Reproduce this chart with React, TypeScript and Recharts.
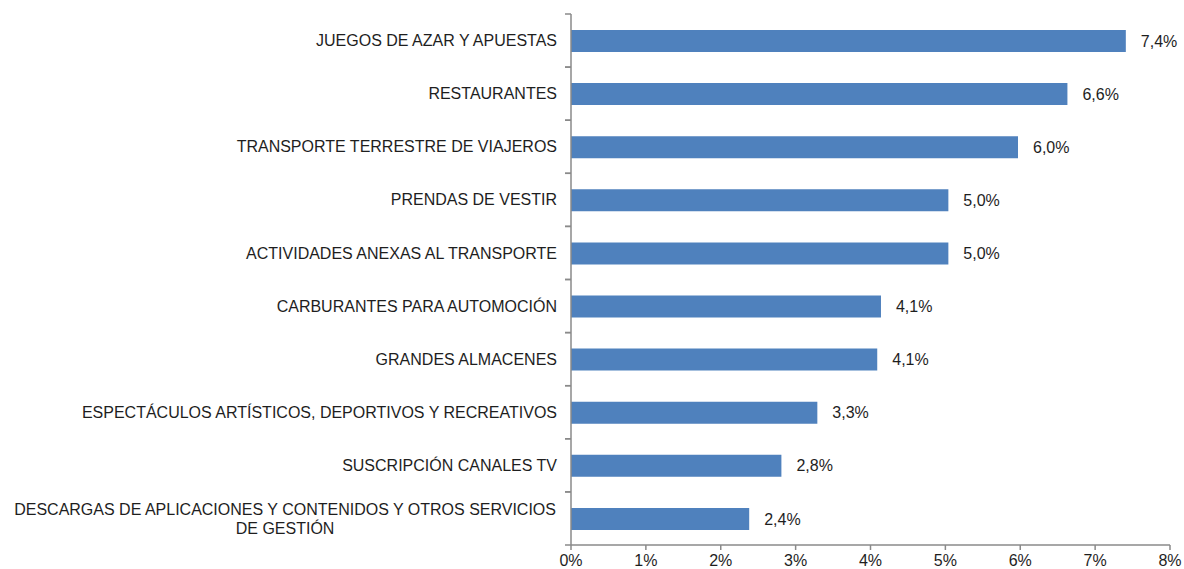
import { BarChart, Bar, XAxis, YAxis, LabelList } from 'recharts';

// Sectors, top to bottom
const categories = [
  'JUEGOS DE AZAR Y APUESTAS',
  'RESTAURANTES',
  'TRANSPORTE TERRESTRE DE VIAJEROS',
  'PRENDAS DE VESTIR',
  'ACTIVIDADES ANEXAS AL TRANSPORTE',
  'CARBURANTES PARA AUTOMOCIÓN',
  'GRANDES ALMACENES',
  'ESPECTÁCULOS ARTÍSTICOS, DEPORTIVOS Y RECREATIVOS',
  'SUSCRIPCIÓN CANALES TV',
  'DESCARGAS DE APLICACIONES Y CONTENIDOS Y OTROS SERVICIOS\nDE GESTIÓN',
];
// bar lengths (labels show them rounded)
const values = [7.41, 6.63, 5.97, 5.04, 5.04, 4.14, 4.09, 3.29, 2.81, 2.38];
const xTicks = [0, 1, 2, 3, 4, 5, 6, 7, 8];

const data = categories.map((name, i) => ({ name, value: values[i] }));

const FONT = '"Liberation Sans", Arial, sans-serif';
const TEXT = '#1e1e1e';
const AXIS = '#8a8a8a';
const BAR = '#4f81bd';
const TICK_SIZE = 6;
const TICK_MARGIN = 8;
const LINE_GAP = 19;

let ctx: CanvasRenderingContext2D | null = null;
function measure(s: string) {
  if (!ctx) {
    ctx = document.createElement('canvas').getContext('2d');
    if (ctx) ctx.font = '16px "Liberation Sans", Arial, sans-serif';
  }
  return ctx ? ctx.measureText(s).width : s.length * 9;
}

// Category label, plus tick marks on the band boundaries (like Excel)
function CategoryTick(props: any) {
  const { x, y, payload } = props;
  const axisX = x + TICK_MARGIN + TICK_SIZE;
  const half = payload?.offset ?? 0;
  const lines = String(payload.value).split('\n');
  const firstW = measure(lines[0]);
  return (
    <g>
      <line x1={axisX - TICK_SIZE} x2={axisX} y1={y - half} y2={y - half} stroke={AXIS} strokeWidth={1.5} />
      <line x1={axisX - TICK_SIZE} x2={axisX} y1={y + half} y2={y + half} stroke={AXIS} strokeWidth={1.5} />
      {lines.map((line, i) => {
        const dy = (i - (lines.length - 1) / 2) * LINE_GAP;
        return lines.length === 1 ? (
          <text key={i} x={x} y={y + dy} dy="0.35em" textAnchor="end" fontSize={16} fill={TEXT} fontFamily={FONT}>
            {line}
          </text>
        ) : (
          <text key={i} x={x - firstW / 2} y={y + dy} dy="0.35em" textAnchor="middle" fontSize={16} fill={TEXT} fontFamily={FONT}>
            {line}
          </text>
        );
      })}
    </g>
  );
}

export default function App() {
  return (
    <div style={{ position: 'fixed', left: 0, top: 0, background: '#fff' }}>
      <BarChart
        width={1184}
        height={569}
        data={data}
        layout="vertical"
        margin={{ top: 14, right: 14, bottom: 0, left: 0 }}
        barCategoryGap={0}
      >
        <XAxis
          type="number"
          domain={[0, 8]}
          ticks={xTicks}
          interval={0}
          tickFormatter={(v) => `${v}%`}
          height={24}
          tickSize={5}
          tickMargin={5}
          axisLine={{ stroke: AXIS, strokeWidth: 1.5 }}
          tickLine={{ stroke: AXIS, strokeWidth: 1.5 }}
          tick={{ fontSize: 16, fill: TEXT, fontFamily: FONT }}
        />
        <YAxis
          type="category"
          dataKey="name"
          width={571}
          interval={0}
          tickSize={TICK_SIZE}
          tickMargin={TICK_MARGIN}
          tickLine={false}
          axisLine={{ stroke: AXIS, strokeWidth: 1.5 }}
          tick={<CategoryTick />}
        />
        <Bar dataKey="value" fill={BAR} barSize={22} isAnimationActive={false}>
          <LabelList
            dataKey="value"
            position="right"
            offset={15}
            formatter={(v: any) => `${Number(v).toFixed(1).replace('.', ',')}%`}
            style={{ fontSize: 16, fill: TEXT, fontFamily: FONT }}
          />
        </Bar>
      </BarChart>
    </div>
  );
}
